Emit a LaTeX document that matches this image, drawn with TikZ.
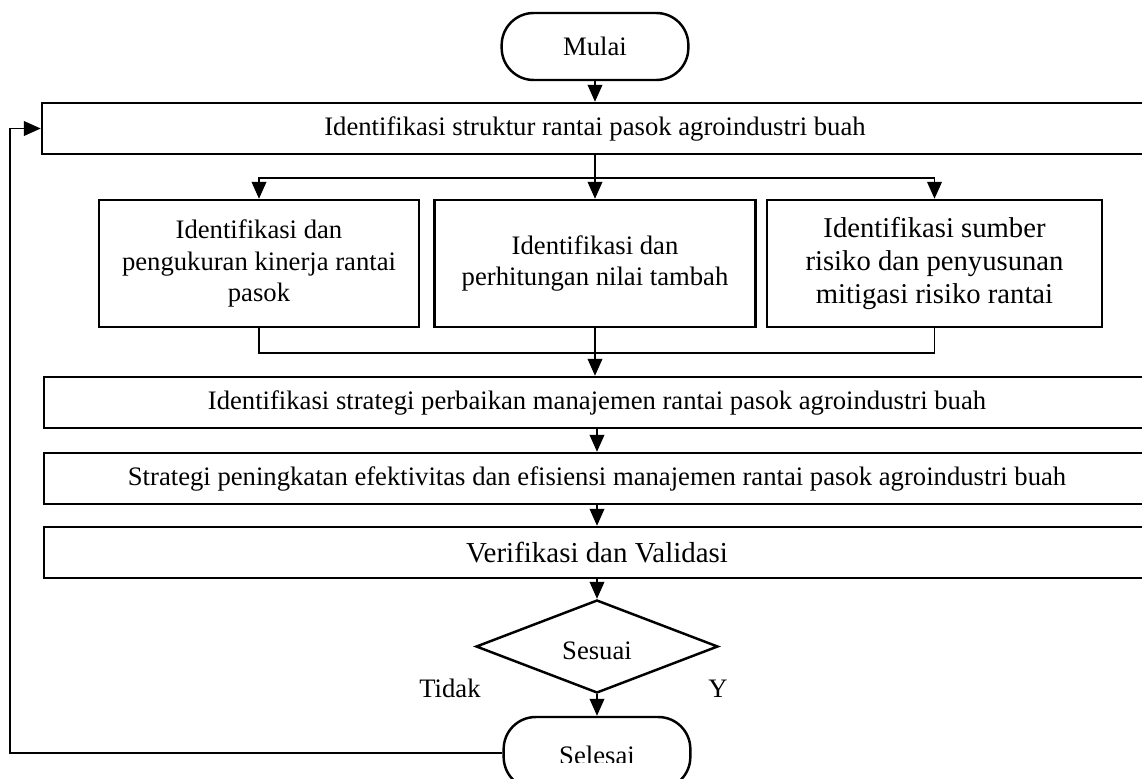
\documentclass[tikz,border=0pt]{standalone}
\usepackage{fontspec}
\setmainfont{Liberation Serif}
\usetikzlibrary{arrows.meta,shapes.geometric}
\begin{document}
\begin{tikzpicture}[x=0.75pt,y=-0.75pt,
  box/.style={draw,line width=1.85pt,inner sep=0pt,align=center,font=\fontsize{20}{23.5}\selectfont},
  term/.style={box,rounded corners=24pt,minimum width=140pt,minimum height=50.25pt},
  conn/.style={line width=1.4pt},
  arr/.style={conn,-{Triangle[length=12.75pt,width=11pt]}},
  lbl/.style={inner sep=0pt,font=\fontsize{20}{23.5}\selectfont}]
\useasboundingbox (0,0) rectangle (1142,778);
\clip (0,0) rectangle (1142,778);
\node[term] (mulai) at (595,46.5) {Mulai};
\node[box,minimum width=829.5pt,minimum height=38.25pt] (b1) at (595,128.5) {Identifikasi struktur rantai pasok agroindustri buah};
\node[box,minimum width=240pt,minimum height=95.25pt] (ba) at (259,263.5) {Identifikasi dan\\pengukuran kinerja rantai\\pasok};
\node[box,minimum width=240.75pt,minimum height=95.25pt] (bb) at (595,263.5) {Identifikasi dan\\perhitungan nilai tambah};
\node[box,minimum width=251.25pt,minimum height=95.25pt,font=\fontsize{21.5}{24.5}\selectfont] (bc) at (934.5,263.5) {Identifikasi sumber\\risiko dan penyusunan\\mitigasi risiko rantai};
\node[box,minimum width=829.5pt,minimum height=38.25pt] (b2) at (597,402.5) {Identifikasi strategi perbaikan manajemen rantai pasok agroindustri buah};
\node[box,minimum width=829.5pt,minimum height=38.25pt] (b3) at (597,478.5) {Strategi peningkatan efektivitas dan efisiensi manajemen rantai pasok agroindustri buah};
\node[box,minimum width=829.5pt,minimum height=38.25pt,font=\fontsize{21.7}{24}\selectfont] (b4) at (597,552.5) {Verifikasi dan Validasi};
\node[box,diamond,minimum width=181.5pt,minimum height=69.75pt] (dec) at (597,646.5) {};
\node[lbl] (dectext) at (597,651) {Sesuai};
\node[term,minimum height=54pt] (selesai) at (597,753) {};
\begin{scope}
  \clip (505,720) rectangle (690,762.5);
  \node[lbl] (seltext) at (597,755) {Selesai};
\end{scope}
\node[lbl] (tidak) at (450,688.5) {Tidak};
\node[lbl] (ya) at (718,688.5) {Y};
\coordinate (split) at (595,178);
\coordinate (merge) at (595,353);
\coordinate (back) at (10,0);
% connectors
\draw[arr] (mulai) -- (b1);
\draw[conn] (b1.south) -- (split);
\draw[arr] (split) -- (bb.north);
\draw[arr] (split) -| (ba.north);
\draw[arr] (split) -| (bc.north);
\draw[conn] (ba.south) |- (merge);
\draw[conn] (bc.south) |- (merge);
\draw[arr] (bb.south) -- (bb.south |- b2.north);
\draw[arr] (b2.south -| b4.north) -- (b3.north);
\draw[arr] (b3) -- (b4);
\draw[arr] (b4) -- (dec);
\draw[arr] (dec) -- (selesai);
\draw[arr] (selesai.west) -| (back |- b1.west) -- (b1.west);
\end{tikzpicture}
\end{document}
